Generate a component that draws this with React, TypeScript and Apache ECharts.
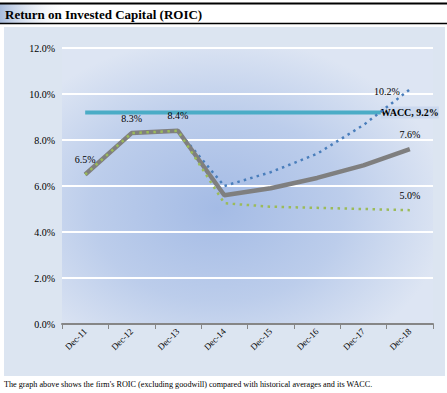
import React, { useEffect, useRef } from "react";
import * as echarts from "echarts";

const categories = ["Dec-11", "Dec-12", "Dec-13", "Dec-14", "Dec-15", "Dec-16", "Dec-17", "Dec-18"];
const roicBase = [6.5, 8.3, 8.4, 5.6, 5.9, 6.35, 6.9, 7.6];
const roicHigh = [6.5, 8.3, 8.4, 6.0, 6.6, 7.4, 8.65, 10.2];
const roicLow = [6.5, 8.3, 8.4, 5.25, 5.1, 5.05, 5.0, 4.95];
const waccValues = [9.2, 9.2, 9.2, 9.2, 9.2, 9.2, 9.2, 9.2];
const yTicks = [0, 2, 4, 6, 8, 10, 12];

const titleText = "Return on Invested Capital (ROIC)";
const captionText =
  "The graph above shows the firm's ROIC (excluding goodwill) compared with historical averages and its WACC.";

const SERIF = "Liberation Serif";

function withLabels(values: number[], idx: number[], label: any, fmt?: (v: number) => string) {
  return values.map((v, i) =>
    idx.includes(i)
      ? { value: v, label: { show: true, formatter: fmt ? fmt(v) : v.toFixed(1) + "%", ...label } }
      : { value: v }
  );
}

export default function App() {
  const ref = useRef<HTMLDivElement>(null);
  useEffect(() => {
    if (!ref.current) return;
    const chart = echarts.init(ref.current, undefined, { renderer: "svg" });
    const baseLabel = {
      color: "#000",
      fontFamily: SERIF,
      fontSize: 10,
    };
    const option: any = {
      animation: false,
      backgroundColor: "#ffffff",
      textStyle: { fontFamily: SERIF },
      graphic: [
        { type: "rect", z: -100, shape: { x: 4, y: 27, width: 441, height: 349 }, style: { fill: "#dce5f1" } },
        {
          type: "rect",
          z: -100,
          shape: { x: 0, y: 4, width: 70, height: 19 },
          style: {
            fill: new echarts.graphic.LinearGradient(0, 0, 1, 0, [
              { offset: 0, color: "#a9bcdc" },
              { offset: 1, color: "rgba(255,255,255,0)" },
            ]),
          },
        },
        { type: "line", shape: { x1: 0, y1: 3.5, x2: 447, y2: 3.5 }, style: { stroke: "#000", lineWidth: 2 } },
        { type: "line", shape: { x1: 0, y1: 23.5, x2: 447, y2: 23.5 }, style: { stroke: "#000", lineWidth: 1.5 } },
        {
          type: "text",
          x: 5,
          y: 14,
          style: {
            text: titleText,
            fontFamily: SERIF,
            fontSize: 13,
            fontWeight: "bold",
            fill: "#000",
            verticalAlign: "middle",
          },
        },
        {
          type: "text",
          x: 4,
          y: 384,
          style: {
            text: captionText,
            fontFamily: SERIF,
            fontSize: 8.2,
            fill: "#000",
            verticalAlign: "middle",
          },
        },
      ],
      grid: {
        left: 62,
        right: 14,
        top: 48,
        bottom: 69,
        show: true,
        borderWidth: 0,
        backgroundColor: new echarts.graphic.RadialGradient(0.42, 0.58, 0.62, [
          { offset: 0, color: "#a4bbe5" },
          { offset: 0.55, color: "#bccdeb" },
          { offset: 1, color: "#dde5f3" },
        ]),
      },
      xAxis: {
        type: "category",
        data: categories,
        boundaryGap: true,
        axisLine: { show: true, lineStyle: { color: "#868686", width: 2 } },
        axisTick: { show: true, length: 5, interval: 0, lineStyle: { color: "#868686", width: 1 } },
        axisLabel: { rotate: 45, interval: 0, fontFamily: SERIF, fontSize: 9, color: "#000", margin: 6 },
        splitLine: { show: false },
      },
      yAxis: {
        type: "value",
        min: yTicks[0],
        max: yTicks[yTicks.length - 1],
        interval: 2,
        axisLine: { show: false },
        axisTick: { show: false },
        axisLabel: {
          formatter: (v: number) => v.toFixed(1) + "%",
          fontFamily: SERIF,
          fontSize: 10,
          color: "#000",
          margin: 7,
        },
        splitLine: { show: true, lineStyle: { color: "#ffffff", width: 2 } },
      },
      series: [
        {
          name: "WACC",
          type: "line",
          z: 2,
          data: withLabels(
            waccValues,
            [7],
            {
              ...baseLabel,
              fontWeight: "bold",
              position: "inside",
              backgroundColor: "#cbd8ee",
              padding: [1, 0, 1, 0],
            },
            (v) => `WACC, ${v.toFixed(1)}%`
          ),
          symbol: "circle",
          symbolSize: 0.1,
          itemStyle: { color: "#4bacc6" },
          lineStyle: { color: "#4bacc6", width: 4 },
        },
        {
          name: "High",
          type: "line",
          z: 3,
          data: withLabels(roicHigh, [7], { ...baseLabel, position: "left", distance: 10, offset: [0, 2] }),
          symbol: "circle",
          symbolSize: 0.1,
          itemStyle: { color: "#4a7ebb" },
          lineStyle: { color: "#4a7ebb", width: 2.5, type: [2.5, 4.2], cap: "butt" },
        },
        {
          name: "ROIC",
          type: "line",
          z: 4,
          data: withLabels(roicBase, [0, 1, 2, 7], { ...baseLabel, position: "top", distance: 10 }),
          symbol: "circle",
          symbolSize: 0.1,
          itemStyle: { color: "#7f7f7f" },
          lineStyle: { color: "#7f7f7f", width: 4.5 },
        },
        {
          name: "Low",
          type: "line",
          z: 5,
          data: withLabels(roicLow, [7], { ...baseLabel, position: "top", distance: 10 }),
          symbol: "circle",
          symbolSize: 0.1,
          itemStyle: { color: "#9bbb59" },
          lineStyle: { color: "#9bbb59", width: 2.5, type: [2.5, 4.5], cap: "butt" },
        },
      ],
    };
    chart.setOption(option);
    return () => chart.dispose();
  }, []);
  return (
    <div
      ref={ref}
      style={{ position: "absolute", left: 0, top: 0, width: 447, height: 393 }}
    />
  );
}
